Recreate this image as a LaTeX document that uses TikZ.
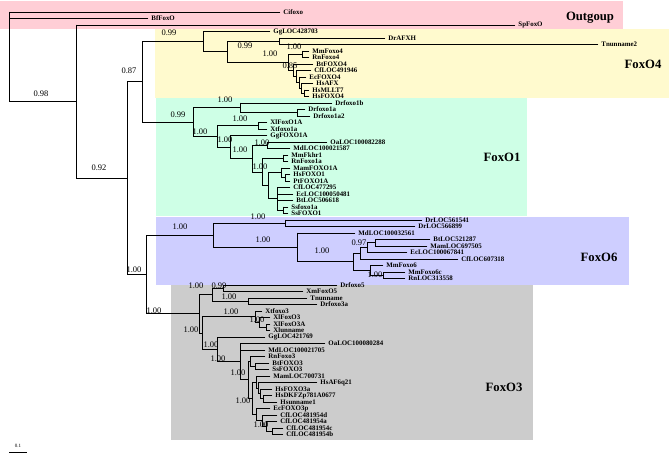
\documentclass[tikz,border=0pt]{standalone}
\usepackage{fontspec}
\setmainfont{Liberation Serif}
\usetikzlibrary{positioning}

\definecolor{outpink}{RGB}{255,206,214}
\definecolor{oyellow}{RGB}{255,250,206}
\definecolor{ogreen}{RGB}{206,255,230}
\definecolor{oblue}{RGB}{206,206,255}
\definecolor{ogray}{RGB}{204,204,204}

\tikzset{
  br/.style={line width=0.9pt, line cap=rect},
  lab/.style={anchor=west, inner sep=0.5pt, xshift=2.5pt, font=\fontsize{6.9}{7}\selectfont\bfseries},
  sv/.style={inner sep=0pt, font=\fontsize{8.5}{9}\selectfont},
  grp/.style={inner sep=0pt, font=\fontsize{12.7}{14}\selectfont\bfseries}
}

\begin{document}
\begin{tikzpicture}[x=1pt,y=-1pt]
\useasboundingbox (0,0) rectangle (670,468);

%%% CLADE BOXES %%%
\fill[outpink] (0,1) rectangle (623,29);
\fill[oyellow] (155,29) rectangle (669,98);
\fill[ogreen] (156,98) rectangle (527,216);
\fill[oblue] (156,217) rectangle (629,285);
\fill[ogray] (171,285) rectangle (533,440);

\node[grp] (outg) at (590,18) {Outgoup};
\node[grp] (fox4) at (643,64) {FoxO4};
\node[grp] (fox1) at (502,157) {FoxO1};
\node[grp] (fox6) at (599,257) {FoxO6};
\node[grp] (fox3) at (504,387) {FoxO3};

%%% VERTICAL LINES OF THE INNER NODES %%%
\foreach \x/\ya/\yb in {9/12/101.6, 76/25/178.25, 127/81.9/274.6, 142/41.65/122.15, 146/235.3/313.9,
  203/31.5/51.8, 227/41.25/62.3, 279/38/44.5, 288/54.25/70.3, 302/51/57.5, 293/64/76.6,
  296/70.5/82.7, 299/77/88.4, 301/83.5/93.25, 304/90/96.5,
  193/107.9/136.4, 240/103/112.75, 297/109.5/116, 217/125.75/147.1, 258/122.5/129,
  230/135.5/158.7, 252/145.25/172.1, 267/142/148.5, 262/158.25/185.9, 283/155/161.5,
  268/172.9/198.9, 281/168/177.75, 285/174.5/181, 277/187.5/210.25, 283/207/213.5,
  213/223.25/247.4, 285/220/226.5, 297/233/261.85, 353/253.3/270.4, 360/247.6/259,
  367/242.75/252.5, 375/239.5/246, 370/265.5/275.25, 383/272/278.5,
  199/294.75/333, 212/288.25/301.25, 223/285/291.5, 248/298/304.5, 202/316.7/349.35,
  255/311/322.4, 259/317.5/327.25, 266/324/330.5, 217/337/361.7, 240/343.5/379.9,
  248/361.4/398.35, 250/356.5/366.25, 255/363/369.5, 252/382.1/414.6, 256/376/388.2,
  258/382.5/393.9, 260/389/398.75, 263/395.5/402, 256/408.5/420.7, 262/415/426.4,
  266/421.5/431.25, 272/428/434.5}{
\draw[br] (\x,\ya) -- (\x,\yb);
}

%%% STEMS BETWEEN INNER NODES %%%
\foreach \xa/\xb/\y in {9/76/101.6, 76/127/178.25, 127/142/81.9, 127/146/274.6,
  142/203/41.65, 203/227/51.8, 227/279/41.25, 227/288/62.3, 288/302/54.25, 288/293/70.3,
  293/296/76.6, 296/299/82.7, 299/301/88.4, 301/304/93.25,
  142/193/122.15, 193/240/107.9, 240/297/112.75, 193/217/136.4, 217/258/125.75,
  217/230/147.1, 230/252/158.7, 252/267/145.25, 252/262/172.1, 262/283/158.25,
  262/268/185.9, 268/281/172.9, 281/285/177.75, 268/277/198.9, 277/283/210.25,
  146/213/235.3, 213/285/223.25, 213/297/247.4, 297/353/261.85, 353/360/253.3,
  360/367/247.6, 367/375/242.75, 353/370/270.4, 370/383/275.25,
  146/199/313.9, 199/212/294.75, 212/223/288.25, 212/248/301.25, 199/202/333,
  202/255/316.7, 255/259/322.4, 259/266/327.25, 202/217/349.35, 217/240/361.7,
  240/248/379.9, 248/250/361.4, 250/255/366.25, 248/252/398.35, 252/256/382.1,
  256/258/388.2, 258/260/393.9, 260/263/398.75, 252/256/414.6, 256/262/420.7,
  262/266/426.4, 266/272/431.25}{
\draw[br] (\xa,\y) -- (\xb,\y);
}

%%% LEAVES %%%
\foreach \xa/\xb/\y/\nm in {9/280/12/Cifoxo, 9/148/18.5/BfFoxO, 76/515/25/SpFoxO,
  203/270/31.5/GgLOC428703, 279/385/38/DrAFXH, 279/598/44.5/Tnunname2,
  302/309/51/MmFoxo4, 302/309/57.5/RnFoxo4, 293/313/64/BtFOXO4, 296/311/70.5/CfLOC491946,
  299/306/77/EcFOXO4, 301/313/83.5/HsAFX, 304/309/90/HsMLLT7, 304/309/96.5/HsFOXO4,
  240/332/103/Drfoxo1b, 297/305/109.5/Drfoxo1a, 297/310/116/Drfoxo1a2,
  258/267/122.5/XlFoxO1A, 258/267/129/Xtfoxo1a, 230/267/135.5/GgFOXO1A,
  267/327/142/OaLOC100082288, 267/290/148.5/MdLOC100021587, 283/288/155/MmFkhr1,
  283/288/161.5/RnFoxo1a, 281/290/168/MamFOXO1A, 285/290/174.5/HsFOXO1,
  285/290/181/PtFOXO1A, 277/290/187.5/CfLOC477295, 277/293/194/EcLOC100050481,
  277/293/200.5/BtLOC506618, 283/288/207/Ssfoxo1a, 283/288/213.5/SsFOXO1,
  285/422/220/DrLOC561541, 285/415/226.5/DrLOC566899, 297/355/233/MdLOC100032561,
  375/430/239.5/BtLOC521287, 375/427/246/MamLOC697505, 367/407/252.5/EcLOC100067841,
  360/458/259/CfLOC607318, 370/383/265.5/MmFoxo6, 383/405/272/MmFoxo6c,
  383/405/278.5/RnLOC313558,
  223/337/285/Drfoxo5, 223/303/291.5/XmFoxO5, 248/307/298/Tnunname, 248/317/304.5/Drfoxo3a,
  255/262/311/Xtfoxo3, 259/270/317.5/XlFoxO3, 266/270/324/XlFoxO3A, 266/270/330.5/Xlunname,
  217/265/337/GgLOC421769, 240/325/343.5/OaLOC100080284, 240/265/350/MdLOC100021705,
  250/265/356.5/RnFoxo3, 255/269/363/BtFOXO3, 255/269/369.5/SsFOXO3,
  256/270/376/MamLOC700731, 258/317/382.5/HsAF6q21, 260/272/389/HsFOXO3a,
  263/272/395.5/HsDKFZp781A0677, 263/277/402/Hsunname1, 256/270/408.5/EcFOXO3p,
  262/277/415/CfLOC481954d, 266/277/421.5/CfLOC481954a, 272/283/428/CfLOC481954c,
  272/283/434.5/CfLOC481954b}{
\draw[br] (\xa,\y) -- (\xb,\y) node[lab] (\nm) {\nm};
}

%%% SUPPORT VALUES %%%
\foreach \x/\y/\v [count=\i] in {41/94/0.98, 99/168/0.92, 129/71/0.87, 134/270/1.00,
  169/33/0.99, 245/46/0.99, 270/54/1.00, 294/47/1.00, 290/66/0.85,
  225/100/1.00, 178/115/0.99, 240/119/1.00, 200/132/1.00, 225/140/1.00, 240/150/1.00,
  262/143/1.00, 260/167/1.00,
  180/227/1.00, 258/217/1.00, 263/240/1.00, 322/251/1.00, 359/243/0.97, 375/275/1.00,
  154/311/1.00, 196/286/1.00, 219/286/0.99, 229/297/1.00, 231/312/1.00, 191/330/1.00,
  257/320/1.00, 211/345/1.00, 218/359/1.00, 238/373/1.00, 243/401/1.00, 261/425/1.00}{
\node[sv] (s\i) at (\x,\y) {\v};
}

%%% SCALE BAR %%%
\coordinate (bar0) at (9,452);
\coordinate (bar1) at (27,452);
\draw[line width=0.6pt] (bar0) -- (bar1);
\node[sv, font=\fontsize{5}{6}\selectfont] (barlab) at (18,446) {0.1};

\end{tikzpicture}
\end{document}
